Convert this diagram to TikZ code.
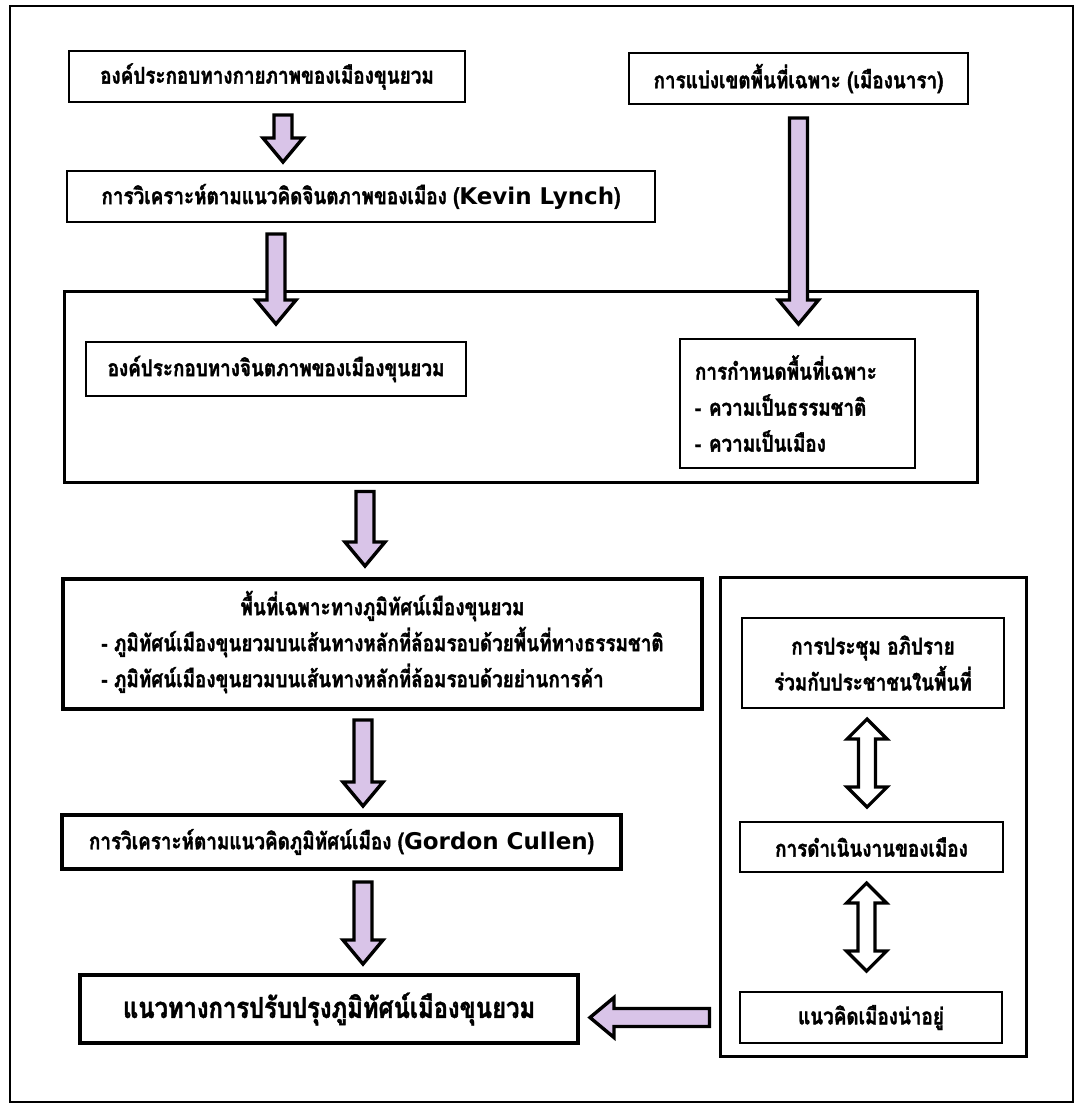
\documentclass[tikz,border=0pt]{standalone}
\usepackage{fontspec}
\usepackage{xcolor}
\usepackage{tikz}
\usetikzlibrary{
  calc,
  positioning
}
\newfontfamily\thaifont[Script=Thai, FakeStretch=0.82, FakeBold=1.5]{Loma}
\newfontfamily\latinfont{DejaVu Sans}
\definecolor{arrowfill}{HTML}{D9C4E8}

\begin{document}
\begin{tikzpicture}[x=0.5pt, y=-0.5pt,
    every node/.style={font=\thaifont\bfseries\fontsize{11.5}{18}\selectfont, inner sep=0pt, align=center},
    field/.style={draw, rectangle, line width=1pt},
    heavyfield/.style={draw, rectangle, line width=2pt},
    group/.style={draw, rectangle, line width=1.5pt},
    fat/.style={draw, line width=1.7pt, fill=arrowfill, line join=miter, to path={
      ($(\tikztotarget)!12pt!(\tikztostart)$) coordinate (fa-b)
      ($(\tikztostart)!4.5pt!90:(\tikztotarget)$) -- ($(fa-b)!4.5pt!90:(\tikztotarget)$)
      -- ($(fa-b)!10pt!90:(\tikztotarget)$) -- (\tikztotarget)
      -- ($(fa-b)!10pt!-90:(\tikztotarget)$) -- ($(fa-b)!4.5pt!-90:(\tikztotarget)$)
      -- ($(\tikztostart)!4.5pt!-90:(\tikztotarget)$) -- cycle}},
    dfat/.style={draw, line width=1.6pt, fill=white, line join=miter, to path={
      ($(\tikztostart)!10pt!(\tikztotarget)$) coordinate (fa-s)
      ($(\tikztotarget)!10pt!(\tikztostart)$) coordinate (fa-t)
      (\tikztostart) -- ($(fa-s)!10pt!-90:(\tikztotarget)$) -- ($(fa-s)!4.25pt!-90:(\tikztotarget)$)
      -- ($(fa-t)!4.25pt!-90:(\tikztotarget)$) -- ($(fa-t)!10pt!-90:(\tikztotarget)$)
      -- (\tikztotarget) -- ($(fa-t)!10pt!90:(\tikztotarget)$) -- ($(fa-t)!4.25pt!90:(\tikztotarget)$)
      -- ($(fa-s)!4.25pt!90:(\tikztotarget)$) -- ($(fa-s)!10pt!90:(\tikztotarget)$) -- cycle}}]
\useasboundingbox (0,0) rectangle (1084,1105);
\fill [white] (0,0) rectangle (1084,1105);
\draw [line width=0.8pt] (10,6) rectangle (1073,1102);

\node [field, minimum width=198pt, minimum height=25.5pt] (A) at (267,76.5) {องค์ประกอบทางกายภาพของเมืองขุนยวม};
\node [field, minimum width=169.5pt, minimum height=25.5pt] (C) at (798.5,78.5) {การแบ่งเขตพื้นที่เฉพาะ (เมืองนารา)};
\node [field, minimum width=294pt, minimum height=25.5pt] (B) at (361,196.5) {การวิเคราะห์ตามแนวคิดจินตภาพของเมือง ({\latinfont Kevin Lynch})};

\node [group, minimum width=456.5pt, minimum height=95.5pt] (E) at (520.5,386.5) {};
\node [field, minimum width=190pt, minimum height=27pt] (D1) at (276,369) {องค์ประกอบทางจินตภาพของเมืองขุนยวม};
\node [field, align=left, text width=102.5pt, inner xsep=7.5pt, minimum height=64.5pt] (D2) at (797.5,403.5) {การกำหนดพื้นที่เฉพาะ\\- ความเป็นธรรมชาติ\\- ความเป็นเมือง};

\node [heavyfield, minimum width=319.5pt, minimum height=65pt] (F) at (382.5,644) {\begin{tabular}{@{}l@{}}
\multicolumn{1}{@{}c@{}}{พื้นที่เฉพาะทางภูมิทัศน์เมืองขุนยวม}\\
- ภูมิทัศน์เมืองขุนยวมบนเส้นทางหลักที่ล้อมรอบด้วยพื้นที่ทางธรรมชาติ\\
- ภูมิทัศน์เมืองขุนยวมบนเส้นทางหลักที่ล้อมรอบด้วยย่านการค้า
\end{tabular}};
\node [heavyfield, minimum width=279.5pt, minimum height=27pt] (G) at (341.5,842) {การวิเคราะห์ตามแนวคิดภูมิทัศน์เมือง ({\latinfont Gordon Cullen})};
\node [heavyfield, minimum width=249pt, minimum height=34pt, font=\thaifont\bfseries\fontsize{14.5}{18}\selectfont] (H) at (329,1009) {แนวทางการปรับปรุงภูมิทัศน์เมืองขุนยวม};

\node [group, minimum width=153pt, minimum height=239.5pt] (R) at (873,816.5) {};
\node [field, minimum width=131pt, minimum height=45pt] (R1) at (873,663) {การประชุม อภิปราย\\ร่วมกับประชาชนในพื้นที่};
\node [field, minimum width=131.5pt, minimum height=25pt] (R2) at (871.5,847) {การดำเนินงานของเมือง};
\node [field, minimum width=131pt, minimum height=25.5pt] (R3) at (871,1017.5) {แนวคิดเมืองน่าอยู่};

\draw [fat] ([xshift=8pt,yshift=-6pt]A.south) to ([xshift=8pt,yshift=4pt]A.south |- B.north);
\draw [fat] ([yshift=-5.5pt]B.south -| D1.north) to ([yshift=8.5pt]D1.north);
\draw [fat] ([yshift=-6.5pt]C.south) to ([yshift=7pt]C.south |- D2.north);
\draw [fat] ([xshift=-8.75pt,yshift=-4pt]F.north |- E.south) to ([xshift=-8.75pt,yshift=5.5pt]F.north);
\draw [fat] ([xshift=-9.75pt,yshift=-4.5pt]F.south) to ([xshift=-9.75pt,yshift=3.5pt]F.south |- G.north);
\draw [fat] ([xshift=10.75pt,yshift=-5.5pt]G.south) to ([xshift=10.75pt,yshift=4.5pt]G.south |- H.north);
\draw [fat] ([xshift=-4.5pt]R.west |- R3.west) to ([xshift=5pt]H.east |- R3.west);
\draw [dfat] ([xshift=-3pt,yshift=-5pt]R1.south) to ([xshift=-3pt,yshift=7pt]R1.south |- R2.north);
\draw [dfat] ([xshift=-2.5pt,yshift=-5pt]R2.south) to ([xshift=-2.5pt,yshift=10pt]R2.south |- R3.north);
\end{tikzpicture}
\end{document}
